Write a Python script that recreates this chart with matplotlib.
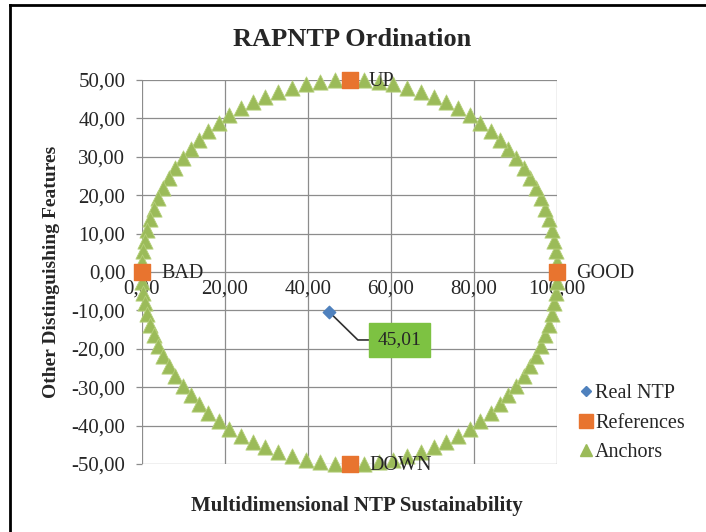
import matplotlib
matplotlib.use("Agg")
import matplotlib.pyplot as plt
from matplotlib.lines import Line2D

plt.rcParams['font.family'] = ['Liberation Serif', 'DejaVu Serif']

# ---- data ----
real_x = [45.01]
real_y = [-10.3]
real_label = ["45,01"]

ref_x = [0.0, 100.0, 50.0, 50.0]
ref_y = [0.0, 0.0, 50.0, -50.0]
ref_labels = ["BAD", "GOOD", "UP", "DOWN"]

anchor_x = [100.0, 99.9, 99.7, 99.3, 98.8, 98.1, 97.2, 96.2, 95.0, 93.6, 92.0, 90.2, 88.3, 86.2, 84.0, 81.5, 79.0, 76.2, 73.3, 70.3, 67.2, 63.9, 60.5, 57.1, 53.6,
            50.0, 46.4, 42.9, 39.5, 36.1, 32.8, 29.7, 26.7, 23.8, 21.0, 18.5, 16.0, 13.8, 11.7, 9.8, 8.0, 6.4, 5.0, 3.8, 2.8, 1.9, 1.2, 0.7, 0.3, 0.1,
            0.0, 0.1, 0.3, 0.7, 1.2, 1.9, 2.8, 3.8, 5.0, 6.4, 8.0, 9.8, 11.7, 13.8, 16.0, 18.5, 21.0, 23.8, 26.7, 29.7, 32.8, 36.1, 39.5, 42.9, 46.4,
            50.0, 53.6, 57.1, 60.5, 63.9, 67.2, 70.3, 73.3, 76.2, 79.0, 81.5, 84.0, 86.2, 88.3, 90.2, 92.0, 93.6, 95.0, 96.2, 97.2, 98.1, 98.8, 99.3, 99.7, 99.9]
anchor_y = [0.0, 2.7, 5.4, 8.2, 11.0, 13.7, 16.5, 19.2, 21.9, 24.6, 27.1, 29.7, 32.1, 34.5, 36.7, 38.8, 40.8, 42.6, 44.2, 45.7, 47.0, 48.0, 48.9, 49.5, 49.9,
            50.0, 49.9, 49.5, 48.9, 48.0, 47.0, 45.7, 44.2, 42.6, 40.8, 38.8, 36.7, 34.5, 32.1, 29.7, 27.1, 24.6, 21.9, 19.2, 16.5, 13.7, 11.0, 8.2, 5.4, 2.7,
            0.0, -2.7, -5.4, -8.2, -11.0, -13.7, -16.5, -19.2, -21.9, -24.6, -27.1, -29.7, -32.1, -34.5, -36.7, -38.8, -40.8, -42.6, -44.2, -45.7, -47.0, -48.0, -48.9, -49.5, -49.9,
            -50.0, -49.9, -49.5, -48.9, -48.0, -47.0, -45.7, -44.2, -42.6, -40.8, -38.8, -36.7, -34.5, -32.1, -29.7, -27.1, -24.6, -21.9, -19.2, -16.5, -13.7, -11.0, -8.2, -5.4, -2.7]

x_ticks = [0, 20, 40, 60, 80, 100]
y_ticks = [-50, -40, -30, -20, -10, 0, 10, 20, 30, 40, 50]

def fmt(v):
    return f"{v:.2f}".replace(".", ",")

BLUE = "#4F81BD"
ORANGE = "#E8742F"
GREEN = "#9BBB59"
GRID = "#8C8C8C"
TXT = "#262626"

fig = plt.figure(figsize=(7.06, 5.32), dpi=100)
ax = fig.add_axes([142/706, 1-464/532, (557-142)/706, (464-80)/532])

ax.set_xlim(0, 100)
ax.set_ylim(-50, 50)
ax.set_xticks(x_ticks)
ax.set_yticks(y_ticks)
ax.grid(True, color=GRID, linewidth=0.9)
ax.set_axisbelow(True)
for s in ax.spines.values():
    s.set_visible(False)
ax.tick_params(axis='x', length=0)
ax.tick_params(axis='y', length=4, width=0.9, color=GRID, pad=8)
ax.set_xticklabels([])
ax.set_yticklabels([fmt(v) for v in y_ticks], fontsize=15, color=TXT)
for v in x_ticks:
    ax.text(v, -2.0, fmt(v), ha='center', va='top', fontsize=15, color=TXT)

ax.scatter(anchor_x, anchor_y, marker='^', s=120, color=GREEN, zorder=3, clip_on=False,
           edgecolors='#B5CF7A', linewidths=0.6)
ax.scatter(ref_x, ref_y, marker='s', s=120, color=ORANGE, zorder=4, clip_on=False)
ax.scatter(real_x, real_y, marker='D', s=40, color=BLUE, zorder=5, clip_on=False)

for x, y, lab in zip(ref_x, ref_y, ref_labels):
    ax.annotate(lab, (x, y), xytext=(14, -1), textcoords='offset points',
                ha='left', va='center', fontsize=14.5, color=TXT, zorder=6)

# data label with leader line
lx, ly = real_x[0] + 17.0, real_y[0] - 7.4
ax.plot([real_x[0], real_x[0] + 7.0, real_x[0] + 9.5], [real_y[0], ly, ly], color='#303030', lw=1.2, zorder=4)
ax.text(lx, ly, real_label[0], ha='center', va='center', fontsize=14, color=TXT, zorder=6,
        bbox=dict(boxstyle='square,pad=0.45', fc='#7DC242', ec='#7DC242'))

fig.text(352/706, 1-40/532, "RAPNTP Ordination", ha='center', va='center', fontsize=19, fontweight='bold', color=TXT)
fig.text(357/706, 1-506/532, "Multidimensional NTP Sustainability", ha='center', va='center', fontsize=15, fontweight='bold', color=TXT)
fig.text(52/706, 1-272/532, "Other Distinguishing Features", ha='center', va='center', rotation=90, fontsize=14, fontweight='bold', color=TXT)

handles = [Line2D([], [], marker='D', color=BLUE, ls='none', markersize=5),
           Line2D([], [], marker='s', color=ORANGE, ls='none', markersize=10),
           Line2D([], [], marker='^', color=GREEN, ls='none', markersize=9)]
fig.legend(handles, ["Real NTP", "References", "Anchors"], loc='center left',
           bbox_to_anchor=(566/706, 1-423/532), frameon=False, fontsize=14.5,
           handlelength=0.6, handletextpad=0.15, labelspacing=0.5, labelcolor=TXT,
           borderpad=0.2)

fig.add_artist(Line2D([10/706, 10/706], [0, 1-5/532], color='black', lw=2, transform=fig.transFigure))
fig.add_artist(Line2D([10/706, 1], [1-5/532, 1-5/532], color='black', lw=2, transform=fig.transFigure))

fig.savefig("out.png", dpi=100)
